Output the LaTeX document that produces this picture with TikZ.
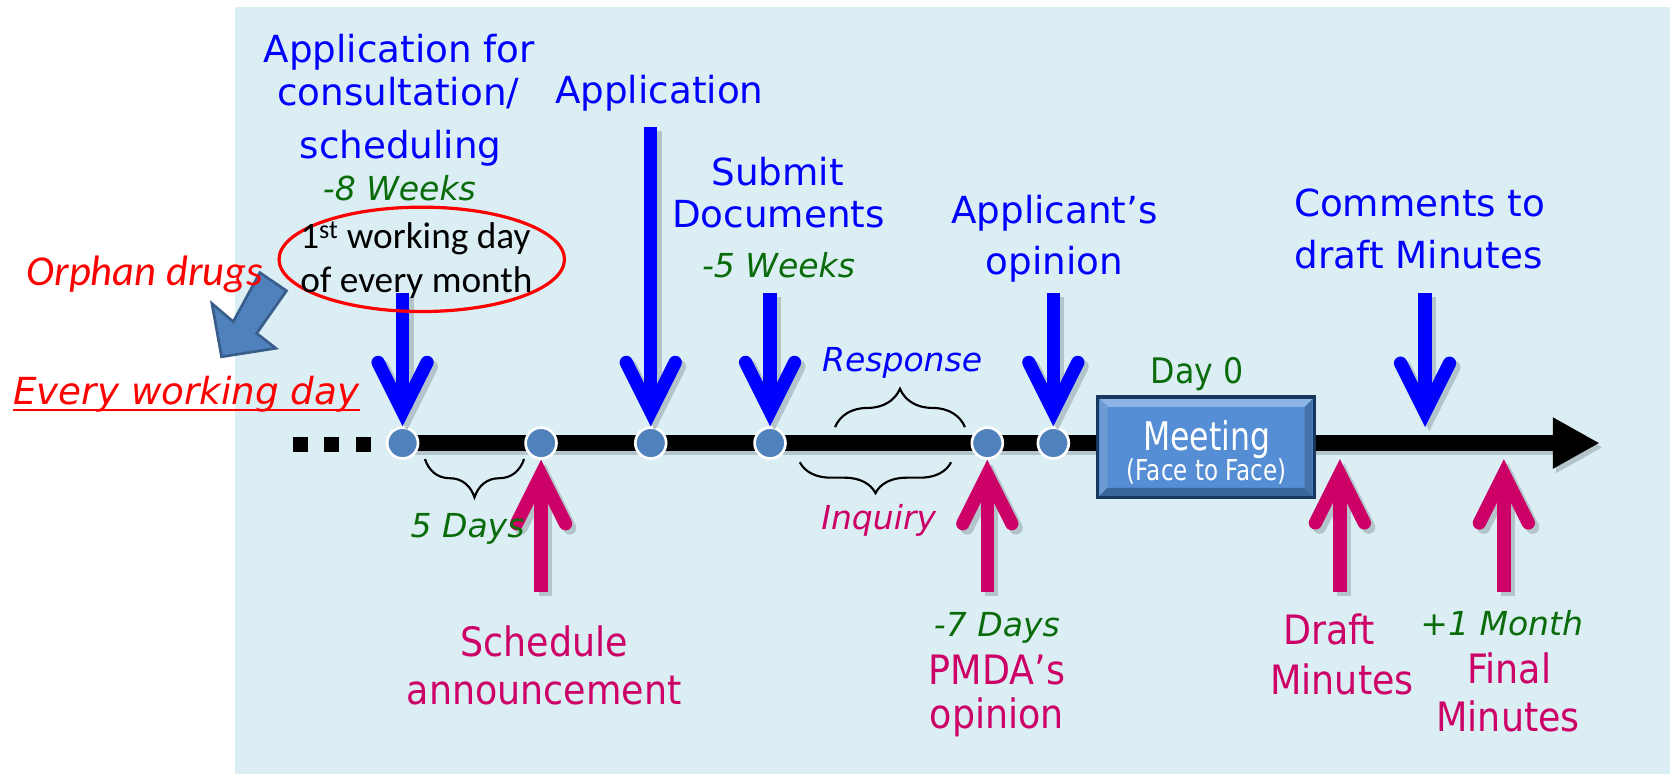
\documentclass[tikz,border=0pt]{standalone}
\usepackage{fontspec}
\setmainfont{DejaVu Sans}
\newfontfamily\tahn[FakeStretch=0.9]{DejaVu Sans}
\newfontfamily\tahc[FakeStretch=0.8]{DejaVu Sans}
\newfontfamily\calib{Carlito}
\usetikzlibrary{arrows.meta,decorations.pathreplacing,shapes.geometric}
\definecolor{bgblue}{HTML}{DBEEF4}
\definecolor{tblue}{HTML}{0000FF}
\definecolor{tpink}{HTML}{CC0066}
\definecolor{tgreen}{HTML}{0A6B0A}
\definecolor{tred}{HTML}{FF0000}
\definecolor{dotfill}{HTML}{4F81BD}
\definecolor{blkfill}{HTML}{4F81BD}
\definecolor{blkdraw}{HTML}{385D8A}
\definecolor{shadowc}{HTML}{B3C4CA}
\definecolor{boxface}{HTML}{558ED5}
\definecolor{boxline}{HTML}{17375E}
\definecolor{bevtop}{HTML}{8CB4E6}
\definecolor{bevleft}{HTML}{6E9AD3}
\definecolor{bevbot}{HTML}{3B6699}
\definecolor{bevright}{HTML}{4471AA}
\begin{document}
\begin{tikzpicture}[x=1pt,y=-1pt,
  bluetxt/.style={text=tblue, font=\fontsize{35}{42}\selectfont, anchor=base, inner sep=0pt},
  pinktxt/.style={text=tpink, font=\tahn\fontsize{38}{44}\selectfont, anchor=base, inner sep=0pt},
  greentxt/.style={text=tgreen, font=\itshape\fontsize{31}{36}\selectfont, anchor=base, inner sep=0pt},
  headtip/.style={-{Straight Barb[length=46pt,width=46pt,line cap=round,line join=miter]}},
  bluearrow/.style={draw=tblue, line width=12.5pt, headtip},
  pinkarrow/.style={draw=tpink, line width=12.5pt, headtip},
  shadowarrow/.style={draw=shadowc, line width=12.5pt, headtip, transform canvas={shift={(4pt,-4pt)}}},
  dotnode/.style={circle, fill=dotfill, draw=white, line width=2.5pt, minimum size=29pt, inner sep=0pt},
  bracest/.style={draw=black, line width=2pt, decorate},
  sq/.style={fill=black, minimum size=14pt, inner sep=0pt}
]
\useasboundingbox (0,0) rectangle (1568,728.6);
\fill[white] (0,0) rectangle (1568,728.6);
\fill[bgblue] (221,7) rectangle (1568,727);

% timeline
\coordinate (tstart) at (378,416);
\coordinate (tend) at (1502,416);
\draw[draw=shadowc, line width=15pt, -{Triangle[length=44pt,width=45pt]}, transform canvas={shift={(3pt,-4pt)}}] (tstart) -- (tend);
\draw[line width=15pt, -{Triangle[length=44pt,width=45pt]}] (tstart) -- (tend);

% leading squares
\node[sq] (s1) at (282,417) {};
\node[sq] (s2) at (311,417) {};
\node[sq] (s3) at (341,417) {};

% meeting box
\node[minimum width=203pt, minimum height=94pt, fill=boxface, inner sep=0pt] (meet) at (1132.5,420) {};
\fill[bevtop] (1032.5,374.5) -- (1232.5,374.5) -- (1225,382) -- (1040,382) -- cycle;
\fill[bevleft] (1032.5,374.5) -- (1040,382) -- (1040,458) -- (1032.5,465.5) -- cycle;
\fill[bevbot] (1032.5,465.5) -- (1232.5,465.5) -- (1225,458) -- (1040,458) -- cycle;
\fill[bevright] (1232.5,374.5) -- (1225,382) -- (1225,458) -- (1232.5,465.5) -- cycle;
\draw[boxline, line width=3pt] (meet.north west) rectangle (meet.south east);
\node[text=white, font=\tahc\fontsize{37}{40}\selectfont, anchor=base, inner sep=0pt] (meettxt) at (1133,423) {Meeting};
\node[text=white, font=\tahc\fontsize{27}{30}\selectfont, anchor=base, inner sep=0pt] (f2f) at (1133,451) {(Face to Face)};
\node[text=tgreen, font=\tahn\fontsize{33}{36}\selectfont, anchor=base, inner sep=0pt] (day0) at (1124,360) {Day 0};

% dots
\node[dotnode] (d1) at (378,416) {};
\node[dotnode] (d2) at (508,416) {};
\node[dotnode] (d3) at (611,416) {};
\node[dotnode] (d4) at (723,416) {};
\node[dotnode] (d5) at (927,416) {};
\node[dotnode] (d6) at (989,416) {};

% braces
\draw[bracest, decoration={brace, amplitude=36pt}] (784,401) -- (906,401);
\draw[bracest, decoration={brace, amplitude=29pt}] (893,434) -- (751,434);
\draw[bracest, decoration={brace, amplitude=36pt}] (492,431) -- (399,431);

% arrow start points
\coordinate (a1) at (378,275);
\coordinate (a2) at (611,119);
\coordinate (a3) at (723,275);
\coordinate (a4) at (989,275);
\coordinate (a5) at (1338,275);
\coordinate (t5) at (1338,401);
\coordinate (p1) at (508,556);
\coordinate (p2) at (927,556);
\coordinate (p3) at (1258,556);
\coordinate (q3) at (1258,431);
\coordinate (p4) at (1412,556);
\coordinate (q4) at (1412,431);

% shadows
\foreach \s/\e in {a1/d1.north, a2/d3.north, a3/d4.north, a4/d6.north, a5/t5, p1/d2.south, p2/d5.south, p3/q3, p4/q4}
  \draw[shadowarrow] (\s) -- (\e);

\draw[bluearrow] (a1) -- (d1.north);
\draw[bluearrow] (a2) -- (d3.north);
\draw[bluearrow] (a3) -- (d4.north);
\draw[bluearrow] (a4) -- (d6.north);
\draw[bluearrow] (a5) -- (t5);
\draw[pinkarrow] (p1) -- (d2.south);
\draw[pinkarrow] (p2) -- (d5.south);
\draw[pinkarrow] (p3) -- (q3);
\draw[pinkarrow] (p4) -- (q4);

% orphan block arrow
\filldraw[fill=blkfill, draw=blkdraw, line width=2.5pt, line join=miter]
  (244,256) -- (269,273) -- (241,313) -- (259,327) -- (208,335) -- (199,285) -- (219,302) -- cycle;

% ellipse
\node[ellipse, draw=tred, line width=3pt, minimum width=268pt, minimum height=98pt, inner sep=0pt] (oval) at (396,243.5) {};

% blue labels
\node[bluetxt] (lA1) at (375,59) {Application for};
\node[bluetxt] (lA2) at (374,99) {consultation/};
\node[bluetxt] (lA3) at (376,149) {scheduling};
\node[greentxt] (g8w) at (375,188) {-8 Weeks};
\node[text=black, font=\calib\fontsize{35}{40}\selectfont, anchor=base, inner sep=0pt] (wd1) at (390,233) {1\textsuperscript{st} working day};
\node[text=black, font=\calib\fontsize{35}{40}\selectfont, anchor=base, inner sep=0pt] (wd2) at (391,275) {of every month};
\node[bluetxt] (lApp) at (619,97) {Application};
\node[bluetxt] (lSub1) at (730,174) {Submit};
\node[bluetxt] (lSub2) at (731,214) {Documents};
\node[greentxt] (g5w) at (731,261) {-5 Weeks};
\node[bluetxt] (lAo1) at (990,210) {Applicant’s};
\node[bluetxt] (lAo2) at (990,258) {opinion};
\node[bluetxt] (lC1) at (1333,203) {Comments to};
\node[bluetxt] (lC2) at (1332,252) {draft Minutes};
\node[text=tblue, font=\itshape\fontsize{31}{36}\selectfont, anchor=base, inner sep=0pt] (resp) at (847,349) {Response};

% left red labels
\node[text=tred, font=\calib\itshape\fontsize{40}{44}\selectfont, anchor=base, inner sep=0pt] (orph) at (136,268) {Orphan drugs};
\node[text=tred, font=\itshape\fontsize{35}{40}\selectfont, anchor=base, inner sep=0pt] (every) at (175,380) {Every working day};
\draw[tred, line width=2pt] (every.base west) ++(0,5) coordinate (ul1) -- (every.base east |- ul1) coordinate (ul2);

% below labels
\node[greentxt] (g5d) at (439,505) {5 Days};
\node[text=tpink, font=\itshape\fontsize{31}{36}\selectfont, anchor=base, inner sep=0pt] (inq) at (825,497) {Inquiry};
\node[pinktxt] (ls1) at (511,616) {Schedule};
\node[pinktxt] (ls2) at (511,661) {announcement};
\node[greentxt] (g7d) at (936,598) {-7 Days};
\node[pinktxt] (lp1) at (936,643) {PMDA’s};
\node[pinktxt] (lp2) at (936,684) {opinion};
\node[pinktxt] (ld1) at (1248,605) {Draft};
\node[pinktxt] (ld2) at (1260,652) {Minutes};
\node[greentxt] (g1m) at (1410,597) {+1 Month};
\node[pinktxt] (lf1) at (1417,642) {Final};
\node[pinktxt] (lf2) at (1416,687) {Minutes};
\end{tikzpicture}
\end{document}
